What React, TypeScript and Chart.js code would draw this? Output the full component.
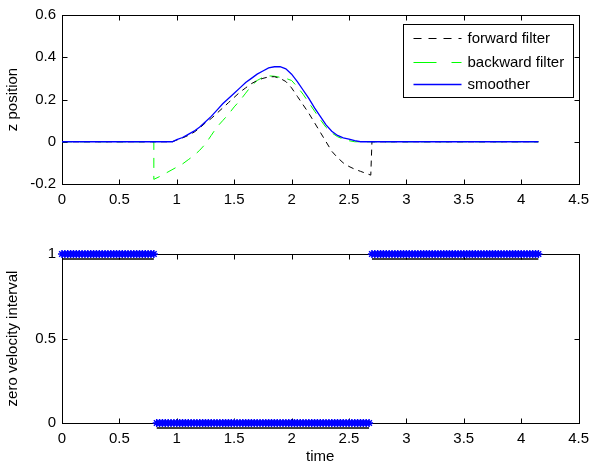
import React, { useEffect, useRef } from "react";
import { Chart, registerables } from "chart.js";

Chart.register(...registerables);

// ---------- tick labels ----------
const xTicks = [0, 0.5, 1, 1.5, 2, 2.5, 3, 3.5, 4, 4.5];
const posTicks = [-0.2, 0, 0.2, 0.4, 0.6];
const zvTicks = [0, 0.5, 1];

const seriesLabels = ["forward filter", "backward filter", "smoother"];
const posAxisTitle = "z position";
const zvAxisTitle = "zero velocity interval";
const timeTitle = "time";

// ---------- forward filter (black dashed) ----------
const fwdTime = [0, 0.96, 1.0, 1.05, 1.1, 1.15, 1.2, 1.25, 1.3, 1.35, 1.4, 1.45, 1.5, 1.55, 1.6, 1.65, 1.7, 1.75, 1.8, 1.85, 1.9, 1.95, 2.0, 2.05, 2.1, 2.15, 2.2, 2.25, 2.3, 2.35, 2.4, 2.45, 2.5, 2.55, 2.6, 2.65, 2.69, 2.7, 4.15];
const fwdZ = [0, 0, 0.008, 0.018, 0.03, 0.045, 0.065, 0.09, 0.11, 0.135, 0.16, 0.185, 0.21, 0.235, 0.255, 0.275, 0.29, 0.3, 0.307, 0.308, 0.3, 0.285, 0.255, 0.215, 0.175, 0.135, 0.09, 0.045, 0.0, -0.045, -0.075, -0.1, -0.117, -0.13, -0.14, -0.15, -0.158, 0, 0];

// ---------- backward filter (green dashed) ----------
const bwdTime = [0, 0.8, 0.8, 0.85, 0.9, 0.95, 1.0, 1.05, 1.1, 1.15, 1.2, 1.25, 1.3, 1.35, 1.4, 1.45, 1.5, 1.55, 1.6, 1.65, 1.7, 1.75, 1.8, 1.85, 1.9, 1.95, 2.0, 2.05, 2.1, 2.15, 2.2, 2.25, 2.3, 2.35, 2.4, 2.45, 2.5, 2.55, 4.15];
const bwdZ = [0, 0, -0.178, -0.165, -0.15, -0.135, -0.12, -0.105, -0.085, -0.065, -0.04, -0.01, 0.03, 0.07, 0.1, 0.13, 0.165, 0.195, 0.23, 0.265, 0.29, 0.305, 0.312, 0.31, 0.305, 0.3, 0.29, 0.26, 0.225, 0.185, 0.145, 0.105, 0.068, 0.042, 0.024, 0.012, 0.005, 0, 0];

// ---------- smoother (blue solid) ----------
const smoTime = [0, 0.96, 1.0, 1.05, 1.1, 1.15, 1.2, 1.25, 1.3, 1.35, 1.4, 1.45, 1.5, 1.55, 1.6, 1.65, 1.7, 1.75, 1.8, 1.85, 1.9, 1.95, 2.0, 2.05, 2.1, 2.15, 2.2, 2.25, 2.3, 2.35, 2.4, 2.45, 2.5, 2.55, 2.6, 4.15];
const smoZ = [0, 0, 0.01, 0.02, 0.035, 0.05, 0.07, 0.095, 0.12, 0.15, 0.18, 0.205, 0.23, 0.255, 0.28, 0.3, 0.32, 0.335, 0.35, 0.355, 0.355, 0.345, 0.32, 0.285, 0.245, 0.205, 0.16, 0.12, 0.08, 0.05, 0.03, 0.018, 0.012, 0.005, 0, 0];

// ---------- zero velocity detector ----------
const zvTime = [
  0, 0.025, 0.05, 0.075, 0.1, 0.125, 0.15, 0.175, 0.2, 0.225, 0.25, 0.275, 0.3, 0.325, 0.35, 0.375, 0.4, 0.425, 0.45, 0.475, 0.5, 0.525, 0.55, 0.575, 0.6, 0.625, 0.65, 0.675, 0.7, 0.725, 0.75, 0.775, 0.8,
  0.825, 0.85, 0.875, 0.9, 0.925, 0.95, 0.975, 1, 1.025, 1.05, 1.075, 1.1, 1.125, 1.15, 1.175, 1.2, 1.225, 1.25, 1.275, 1.3, 1.325, 1.35, 1.375, 1.4, 1.425, 1.45, 1.475, 1.5, 1.525, 1.55, 1.575, 1.6, 1.625, 1.65, 1.675, 1.7, 1.725, 1.75, 1.775, 1.8, 1.825, 1.85, 1.875, 1.9, 1.925, 1.95, 1.975, 2, 2.025, 2.05, 2.075, 2.1, 2.125, 2.15, 2.175, 2.2, 2.225, 2.25, 2.275, 2.3, 2.325, 2.35, 2.375, 2.4, 2.425, 2.45, 2.475, 2.5, 2.525, 2.55, 2.575, 2.6, 2.625, 2.65, 2.675,
  2.7, 2.725, 2.75, 2.775, 2.8, 2.825, 2.85, 2.875, 2.9, 2.925, 2.95, 2.975, 3, 3.025, 3.05, 3.075, 3.1, 3.125, 3.15, 3.175, 3.2, 3.225, 3.25, 3.275, 3.3, 3.325, 3.35, 3.375, 3.4, 3.425, 3.45, 3.475, 3.5, 3.525, 3.55, 3.575, 3.6, 3.625, 3.65, 3.675, 3.7, 3.725, 3.75, 3.775, 3.8, 3.825, 3.85, 3.875, 3.9, 3.925, 3.95, 3.975, 4, 4.025, 4.05, 4.075, 4.1, 4.125, 4.15,
];
const zvFlag = [
  1, 1, 1, 1, 1, 1, 1, 1, 1, 1, 1, 1, 1, 1, 1, 1, 1, 1, 1, 1, 1, 1, 1, 1, 1, 1, 1, 1, 1, 1, 1, 1, 1,
  0, 0, 0, 0, 0, 0, 0, 0, 0, 0, 0, 0, 0, 0, 0, 0, 0, 0, 0, 0, 0, 0, 0, 0, 0, 0, 0, 0, 0, 0, 0, 0, 0, 0, 0, 0, 0, 0, 0, 0, 0, 0, 0, 0, 0, 0, 0, 0, 0, 0, 0, 0, 0, 0, 0, 0, 0, 0, 0, 0, 0, 0, 0, 0, 0, 0, 0, 0, 0, 0, 0, 0, 0, 0, 0,
  1, 1, 1, 1, 1, 1, 1, 1, 1, 1, 1, 1, 1, 1, 1, 1, 1, 1, 1, 1, 1, 1, 1, 1, 1, 1, 1, 1, 1, 1, 1, 1, 1, 1, 1, 1, 1, 1, 1, 1, 1, 1, 1, 1, 1, 1, 1, 1, 1, 1, 1, 1, 1, 1, 1, 1, 1, 1, 1,
];

const FONT_FAMILY = "'Liberation Sans', Arial, Helvetica, sans-serif";
const FONT = { family: FONT_FAMILY, size: 15 };

const toPts = (ts: number[], vs: number[]) => ts.map((t, i) => ({ x: t, y: vs[i] }));

// MATLAB-like box with inward ticks
const framePlugin = {
  id: "matlabFrame",
  beforeDatasetsDraw(chart: any) {
    const { ctx, chartArea: a } = chart;
    const xs = chart.scales.x;
    const ys = chart.scales.y;
    ctx.save();
    ctx.strokeStyle = "#000";
    ctx.lineWidth = 1;
    ctx.setLineDash([]);
    const l = Math.round(a.left) + 0.5;
    const r = Math.round(a.right) + 0.5;
    const t = Math.round(a.top) + 0.5;
    const b = Math.round(a.bottom) + 0.5;
    ctx.strokeRect(l, t, r - l, b - t);
    const len = 5;
    ctx.beginPath();
    xs.ticks.forEach((tk: any) => {
      const px = Math.round(xs.getPixelForValue(tk.value)) + 0.5;
      ctx.moveTo(px, b);
      ctx.lineTo(px, b - len);
      ctx.moveTo(px, t);
      ctx.lineTo(px, t + len);
    });
    ys.ticks.forEach((tk: any) => {
      const py = Math.round(ys.getPixelForValue(tk.value)) + 0.5;
      ctx.moveTo(l, py);
      ctx.lineTo(l + len, py);
      ctx.moveTo(r, py);
      ctx.lineTo(r - len, py);
    });
    ctx.stroke();
    ctx.restore();
  },
};

const legendPlugin = {
  id: "boxLegend",
  afterDatasetsDraw(chart: any) {
    const { ctx, chartArea: a } = chart;
    const w = 170;
    const h = 73;
    const x0 = Math.round(a.right - 6 - w) + 0.5;
    const y0 = Math.round(a.top + 9) + 0.5;
    ctx.save();
    ctx.fillStyle = "#fff";
    ctx.fillRect(x0, y0, w, h);
    ctx.strokeStyle = "#000";
    ctx.lineWidth = 1;
    ctx.setLineDash([]);
    ctx.strokeRect(x0, y0, w, h);
    const rows = [13, 37, 59];
    seriesLabels.forEach((lab, i) => {
      const ds = chart.data.datasets.find((d: any) => d.label === lab);
      if (!ds) return;
      const y = Math.round(y0 + rows[i]) + 0.5;
      ctx.beginPath();
      ctx.strokeStyle = ds.borderColor;
      ctx.lineWidth = ds.borderWidth;
      ctx.setLineDash(ds.legendDash || ds.borderDash || []);
      ctx.moveTo(x0 + 10, y);
      ctx.lineTo(x0 + 58, y);
      ctx.stroke();
      ctx.setLineDash([]);
      ctx.fillStyle = "#000";
      ctx.font = `15px ${FONT_FAMILY}`;
      ctx.textBaseline = "middle";
      ctx.textAlign = "left";
      ctx.fillText(lab, x0 + 64, y);
    });
    ctx.restore();
  },
};

const underlinePlugin = {
  id: "zvUnderline",
  afterDatasetsDraw(chart: any) {
    const { ctx } = chart;
    const meta = chart.getDatasetMeta(0);
    const pts = meta.data;
    const vals = chart.data.datasets[0].data;
    ctx.save();
    ctx.strokeStyle = "#000";
    ctx.lineWidth = 1.5;
    ctx.beginPath();
    for (let i = 1; i < pts.length; i++) {
      if (vals[i].y === vals[i - 1].y) {
        ctx.moveTo(pts[i - 1].x, pts[i - 1].y + 5);
        ctx.lineTo(pts[i].x, pts[i].y + 5);
      }
    }
    ctx.stroke();
    ctx.restore();
  },
};

function axisX(showTitle: boolean, height: number) {
  return {
    type: "linear" as const,
    min: 0,
    max: 4.5,
    afterBuildTicks: (s: any) => {
      s.ticks = xTicks.map((v) => ({ value: v }));
    },
    afterFit: (s: any) => {
      s.height = height;
    },
    grid: { display: false, drawTicks: false },
    border: { display: false },
    ticks: { color: "#000", font: FONT, padding: 7, maxRotation: 0, autoSkip: false, callback: (v: any) => String(v) },
    title: showTitle
      ? { display: true, text: timeTitle, color: "#000", font: FONT, padding: { top: 0, bottom: 1 } }
      : { display: false },
  };
}

function axisY(min: number, max: number, ticks: number[], title: string) {
  return {
    type: "linear" as const,
    min,
    max,
    afterBuildTicks: (s: any) => {
      s.ticks = ticks.map((v) => ({ value: v }));
    },
    afterFit: (s: any) => {
      s.width = 62;
    },
    grid: { display: false, drawTicks: false },
    border: { display: false },
    ticks: { color: "#000", font: FONT, padding: 6, autoSkip: false, callback: (v: any) => String(v) },
    title: { display: true, text: title, color: "#000", font: FONT, padding: { top: 4, bottom: 0 } },
  };
}

export default function App() {
  const topRef = useRef<HTMLCanvasElement>(null);
  const botRef = useRef<HTMLCanvasElement>(null);

  useEffect(() => {
    const top = new Chart(topRef.current as HTMLCanvasElement, {
      type: "line",
      data: {
        datasets: [
          {
            label: seriesLabels[0],
            data: toPts(fwdTime, fwdZ),
            borderColor: "#000000",
            borderWidth: 1,
            borderDash: [6, 5],
            legendDash: [8, 7],
            pointRadius: 0,
            tension: 0,
            order: 1,
          } as any,
          {
            label: seriesLabels[1],
            data: toPts(bwdTime, bwdZ),
            borderColor: "#00ff00",
            borderWidth: 1,
            borderDash: [10, 8],
            legendDash: [23, 15],
            pointRadius: 0,
            tension: 0,
            order: 2,
          } as any,
          {
            label: seriesLabels[2],
            data: toPts(smoTime, smoZ),
            borderColor: "#0000ff",
            borderWidth: 1.3,
            pointRadius: 0,
            tension: 0,
            order: 0,
          } as any,
        ],
      },
      options: {
        responsive: false,
        animation: false,
        devicePixelRatio: 1,
        layout: { padding: { top: 15, right: 13, left: 0, bottom: 0 } },
        plugins: { legend: { display: false }, tooltip: { enabled: false } },
        scales: {
          x: axisX(false, 46),
          y: axisY(-0.2, 0.6, posTicks, posAxisTitle),
        },
      } as any,
      plugins: [framePlugin, legendPlugin],
    });

    const bot = new Chart(botRef.current as HTMLCanvasElement, {
      type: "line",
      data: {
        datasets: [
          {
            label: "zero velocity",
            data: toPts(zvTime, zvFlag),
            borderColor: "#0000ff",
            borderWidth: 5,
            pointStyle: "star",
            pointRadius: 4,
            pointBorderWidth: 1.5,
            pointBorderColor: "#0000ff",
            pointBackgroundColor: "#0000ff",
            tension: 0,
            clip: false,
            segment: {
              borderColor: (c: any) => (c.p0.parsed.y !== c.p1.parsed.y ? "rgba(0,0,0,0)" : undefined),
            },
          } as any,
        ],
      },
      options: {
        responsive: false,
        animation: false,
        devicePixelRatio: 1,
        layout: { padding: { top: 24, right: 13, left: 0, bottom: 0 } },
        plugins: { legend: { display: false }, tooltip: { enabled: false } },
        scales: {
          x: axisX(true, 44),
          y: axisY(0, 1, zvTicks, zvAxisTitle),
        },
      } as any,
      plugins: [framePlugin, underlinePlugin],
    });

    return () => {
      top.destroy();
      bot.destroy();
    };
  }, []);

  return (
    <div style={{ position: "fixed", left: 0, top: 0, width: 596, height: 467, background: "#fff" }}>
      <canvas ref={topRef} width={596} height={230} style={{ position: "absolute", left: 0, top: 0, width: 596, height: 230 }} />
      <canvas ref={botRef} width={596} height={237} style={{ position: "absolute", left: 0, top: 230, width: 596, height: 237 }} />
    </div>
  );
}
